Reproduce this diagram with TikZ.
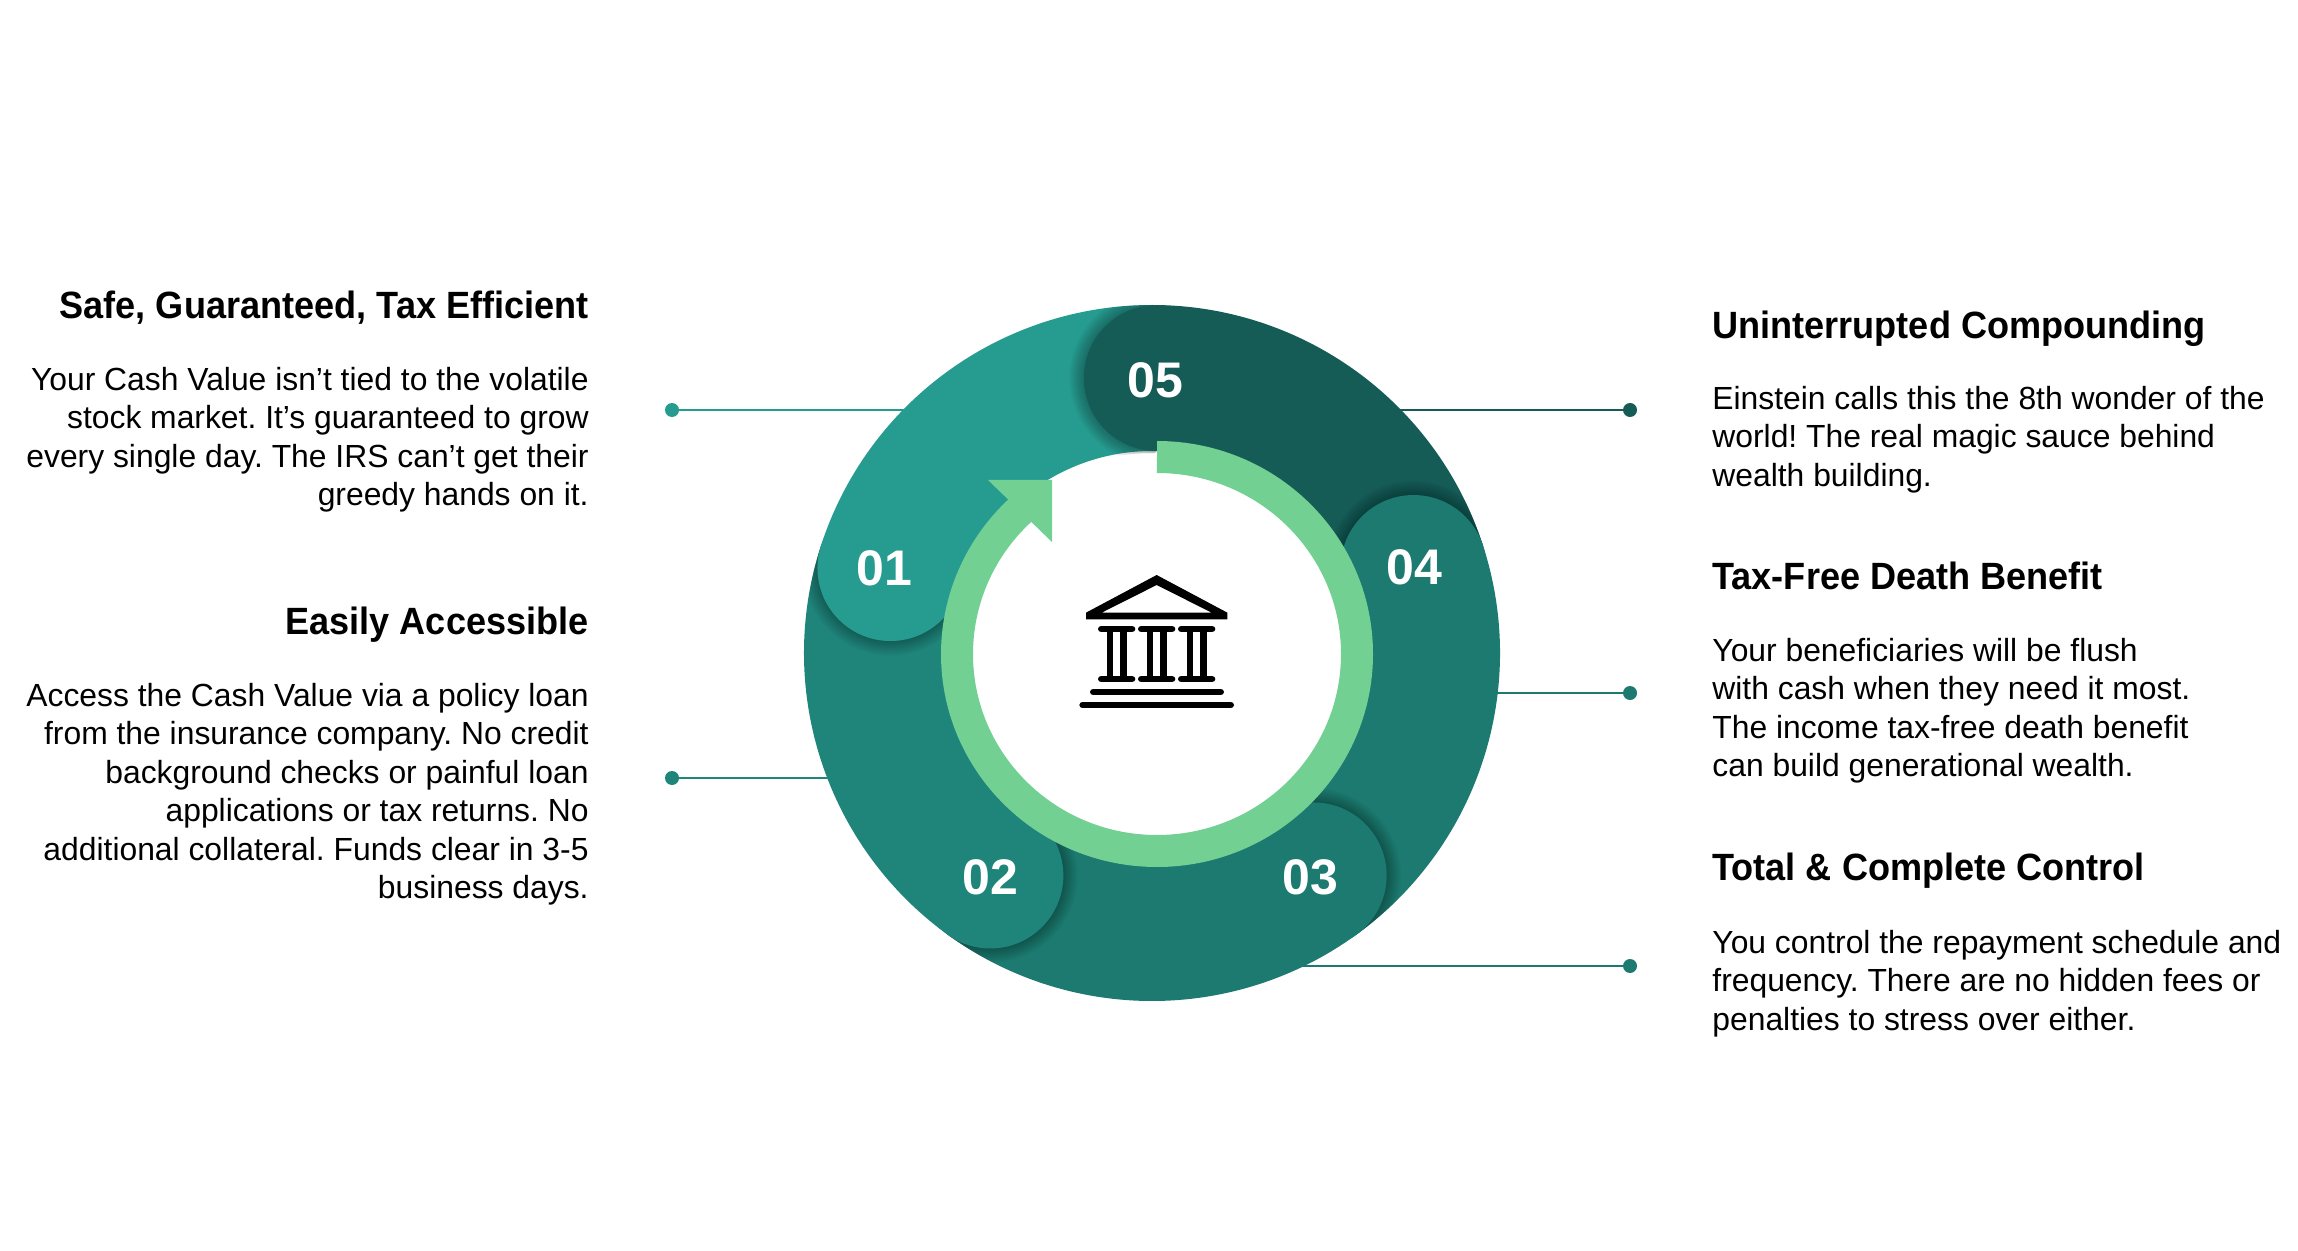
\documentclass[tikz,border=0pt]{standalone}
\usepackage{fontspec}
\setmainfont{Liberation Sans}
\newfontfamily\bodyfont[FakeStretch=0.995]{Liberation Sans}
\newfontfamily\titlefont[FakeStretch=0.95]{Liberation Sans Bold}
\newfontfamily\numfont{Liberation Sans Bold}
\definecolor{cone}{HTML}{269C91}
\definecolor{ctwo}{HTML}{1F857B}
\definecolor{cthree}{HTML}{1C7A70}
\definecolor{cfive}{HTML}{165C56}
\definecolor{cring}{HTML}{73D093}
\tikzset{
  titletext/.style={inner sep=0pt,font=\titlefont\frenchspacing\fontsize{19}{23}\selectfont},
  bodyR/.style={inner sep=0pt,align=right,anchor=north east,font=\bodyfont\frenchspacing\fontsize{16}{19.2}\selectfont},
  bodyL/.style={inner sep=0pt,align=left,anchor=north west,font=\bodyfont\frenchspacing\fontsize{16}{19.2}\selectfont},
  enddot/.style={circle,minimum size=7pt,inner sep=0pt},
  leader/.style={line width=1.25pt},
  head/.style={circle,minimum size=73pt,inner sep=0pt},
  numtext/.style={inner sep=0pt,text=white,font=\numfont\fontsize{25}{30}\selectfont},
}
\newcommand{\sectorfill}[3]{\fill[#1] (#2:348) arc[start angle=#2,end angle=#3,radius=348] -- (#3:202) arc[start angle=#3,end angle=#2,radius=202] -- cycle;}
\newcommand{\headshadow}[1]{%
  \begin{scope}
    \clip (#1:200) -- (#1:348) arc[start angle=#1,end angle=#1+50,radius=348] -- (#1+50:200) arc[start angle=#1+50,end angle=#1,radius=200] -- cycle;
    \foreach \k in {1,...,12}{\fill[black,opacity=0.022] (#1:275) circle[radius=73+\k*1.2];}
  \end{scope}}
\begin{document}
\begin{tikzpicture}[x=0.5pt,y=-0.5pt]
\useasboundingbox (0,0) rectangle (2298,1251);
\fill[white] (0,0) rectangle (2298,1251);
% leaders
\node[enddot,fill=cone] (d1) at (672,410) {};
\node[enddot,fill=ctwo] (d2) at (672,778) {};
\node[enddot,fill=cfive] (d3) at (1630,410) {};
\node[enddot,fill=cthree] (d4) at (1630,693) {};
\node[enddot,fill=cthree] (d5) at (1630,966) {};
\coordinate (e1) at (960,410);
\coordinate (e2) at (860,778);
\coordinate (e3) at (1350,410);
\coordinate (e4) at (1470,693);
\coordinate (e5) at (1280,966);
\draw[leader,cone] (d1) -- (e1);
\draw[leader,ctwo] (d2) -- (e2);
\draw[leader,cfive] (d3) -- (e3);
\draw[leader,cthree] (d4) -- (e4);
\draw[leader,cthree] (d5) -- (e5);
% donut
\begin{scope}[shift={(1152,653)},y=0.5pt]
  \sectorfill{cone}{90}{162}
  \sectorfill{ctwo}{162}{234}
  \sectorfill{cthree}{234}{306}
  \sectorfill{cthree}{306}{378}
  \sectorfill{cfive}{378}{450}
  \headshadow{89}\headshadow{162}\headshadow{234}\headshadow{306}\headshadow{18}
  \node[head,fill=cfive] (h5) at (89:275) {};
  \node[head,fill=cone] (h1) at (162:275) {};
  \node[head,fill=ctwo] (h2) at (234:275) {};
  \node[head,fill=cthree] (h3) at (306:275) {};
  \node[head,fill=cthree] (h4) at (18:275) {};
\end{scope}
\node[numtext] (n1) at (884,568) {01};
\node[numtext] (n2) at (990,877) {02};
\node[numtext] (n3) at (1310,877) {03};
\node[numtext] (n4) at (1414,567) {04};
\node[numtext] (n5) at (1155,380) {05};
% green ring with arrow
\begin{scope}[shift={(1157,654)},y=0.5pt]
  \draw[cring,line width=16pt] (90:200 and 197) arc[start angle=90,end angle=-232,x radius=200,y radius=197];
\end{scope}
\fill[cring] (988,480) -- (1052,480) -- (1052,542) -- cycle;
% icon
\begin{scope}[shift={(1040,550)},x=0.16667pt,y=-0.16667pt]
  \fill[black,even odd rule] (350,75) -- (138,188) -- (138,208) -- (562,208) -- (562,188) -- cycle
     (350,105) -- (185,188) -- (515,188) -- cycle;
  \foreach \c in {230,350,470}{
    \fill[black] (\c-30,237) rectangle (\c-10,387);
    \fill[black] (\c+10,237) rectangle (\c+30,387);
    \draw[black,line width=3.33pt,line cap=round] (\c-46,237) -- (\c+46,237);
    \draw[black,line width=3.33pt,line cap=round] (\c-46,387) -- (\c+46,387);
  }
  \draw[black,line width=3.33pt,line cap=round] (160,426) -- (542,426);
  \draw[black,line width=3.33pt,line cap=round] (128,465) -- (572,465);
\end{scope}
% left text
\node[titletext,anchor=base east] (t1) at (589,319) {Safe, Guaranteed, Tax Efficient};
\node[bodyR] (b1) at (589,367) {Your Cash Value isn’t tied to the volatile\\stock market. It’s guaranteed to grow\\every single day. The IRS can’t get their\\greedy hands on it.};
\node[titletext,anchor=base east] (t2) at (589,634) {Easily Accessible};
\node[bodyR] (b2) at (589,683) {Access the Cash Value via a policy loan\\from the insurance company. No credit\\background checks or painful loan\\applications or tax returns. No\\additional collateral. Funds clear in 3-5\\business days.};
% right text
\node[titletext,anchor=base west] (t3) at (1712,339) {Uninterrupted Compounding};
\node[bodyL] (b3) at (1712,386) {Einstein calls this the 8th wonder of the\\world! The real magic sauce behind\\wealth building.};
\node[titletext,anchor=base west] (t4) at (1712,589) {Tax-Free Death Benefit};
\node[bodyL] (b4) at (1712,638) {Your beneficiaries will be flush\\with cash when they need it most.\\The income tax-free death benefit\\can build generational wealth.};
\node[titletext,anchor=base west] (t5) at (1712,880) {Total \& Complete Control};
\node[bodyL] (b5) at (1712,930) {You control the repayment schedule and\\frequency. There are no hidden fees or\\penalties to stress over either.};
\end{tikzpicture}
\end{document}
